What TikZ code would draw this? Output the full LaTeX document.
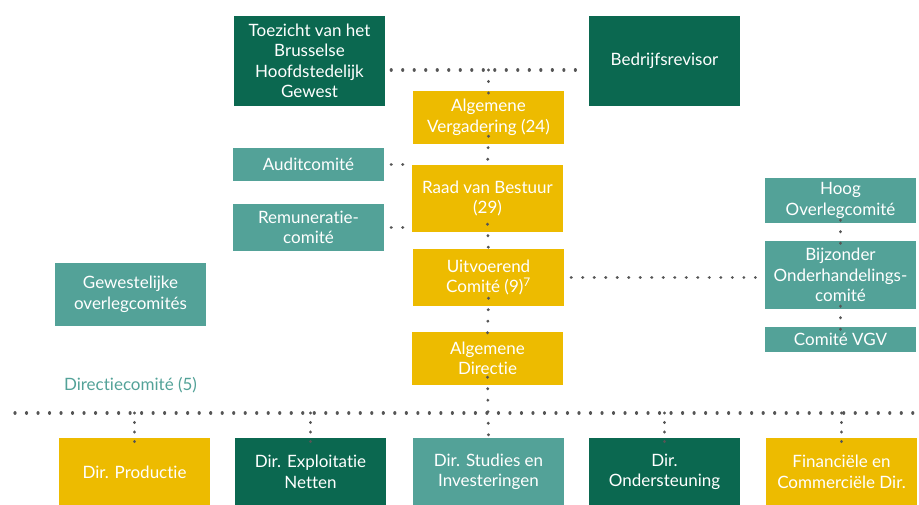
\documentclass[tikz,border=0pt]{standalone}
\usepackage{fontspec}
\setmainfont{Lato}[Ligatures={NoCommon,NoContextual}, RawFeature={-calt;-clig;-liga}]
\definecolor{bgreen}{HTML}{0B6850}
\definecolor{bteal}{HTML}{53A298}
\definecolor{byellow}{HTML}{EDBB00}
\definecolor{dotgray}{HTML}{555555}
\begin{document}
\begin{tikzpicture}[x=1pt,y=-1pt, font=\fontsize{17}{20.5}\selectfont, line join=round, line cap=round,
	box/.style={fill=#1, text=white, align=center, inner sep=0pt, minimum width=151},
	dots/.style={draw=dotgray, line width=3.2pt, dash pattern=on 0.01pt off 11.5pt}]
	\clip (0,0) rectangle (919,504);
	% top
	\node[box=bgreen, minimum height=90] (toez) at (309.5,61) {Toezicht van het\\Brusselse\\Hoofdstedelijk\\Gewest};
	\node[box=bgreen, minimum height=90] (rev) at (664.5,61) {Bedrijfsrevisor};
	\node[box=byellow, minimum height=53] (av) at (488.5,117.5) {Algemene\\Vergadering (24)};
	\node[box=byellow, minimum height=67] (rvb) at (487.5,198.5) {Raad van Bestuur\\(29)};
	\node[box=byellow, minimum height=57] (uitv) at (488.5,277.5) {Uitvoerend\\Comité (9)\textsuperscript{7}};
	\node[box=byellow, minimum height=53] (ad) at (487.5,358.5) {Algemene\\Directie};
	% left
	\node[box=bteal, minimum height=33] (audit) at (308.5,164.5) {Auditcomité};
	\node[box=bteal, minimum height=47] (remun) at (308.5,227.5) {Remuneratie-\\comité};
	\node[box=bteal, minimum height=63] (gew) at (130.5,294.5) {Gewestelijke\\overlegcomités};
	\node[text=bteal] (dircom) at (130.5,385) {Directiecomité (5)};
	% right
	\node[box=bteal, minimum height=45] (hoog) at (840.5,200.5) {Hoog\\Overlegcomité};
	\node[box=bteal, minimum height=68] (bijz) at (840.5,275) {Bijzonder\\Onderhandelings-\\comité};
	\node[box=bteal, minimum height=25] (vgv) at (840.5,339.5) {Comité VGV};
	% directies
	\node[box=byellow, minimum height=68] (prod) at (134.5,472) {Dir. Productie};
	\node[box=bgreen, minimum height=68] (expl) at (310.5,472) {Dir. Exploitatie\\Netten};
	\node[box=bteal, minimum height=68] (stud) at (488.5,472) {Dir. Studies en\\Investeringen};
	\node[box=bgreen, minimum height=68] (onder) at (664.5,472) {Dir.\\Ondersteuning};
	\node[box=byellow, minimum height=68] (fin) at (841.5,472) {Financiële en\\Commerciële Dir.};
	\coordinate (j1) at (488.5,70);
	\coordinate (barL) at (15,413);
	\coordinate (barR) at (919,413);
	% dotted links
	\draw[dots] ([xshift=6]toez.east |- j1) -- ([xshift=-4]rev.west |- j1);
	\draw[dots] (j1) -- ([yshift=-4]av.north);
	\draw[dots] ([yshift=8]av.south) -- ([yshift=-3]rvb.north);
	\draw[dots] ([yshift=8]rvb.south) -- ([yshift=-3]uitv.north);
	\draw[dots] ([yshift=8]uitv.south) -- ([yshift=-3]ad.north);
	\draw[dots] ([yshift=8]ad.south) -- ([yshift=-3]stud.north);
	\draw[dots] ([xshift=7]audit.east) -- ([xshift=-5]audit.east -| rvb.west);
	\draw[dots] ([xshift=7]remun.east) -- ([xshift=-5]remun.east -| rvb.west);
	\draw[dots] ([xshift=7]uitv.east) -- ([xshift=-5]uitv.east -| bijz.west);
	\draw[dots] ([yshift=3]hoog.south) -- ([yshift=-3]bijz.north);
	\draw[dots] ([yshift=3]bijz.south) -- ([yshift=-3]vgv.north);
	\draw[dots] (barL) -- (barR);
	\foreach \d in {prod,expl,onder,fin}
		\draw[dots, dash pattern=on 0.01pt off 9.5pt] (\d.north |- barL) -- ([yshift=-4]\d.north);
\end{tikzpicture}
\end{document}
